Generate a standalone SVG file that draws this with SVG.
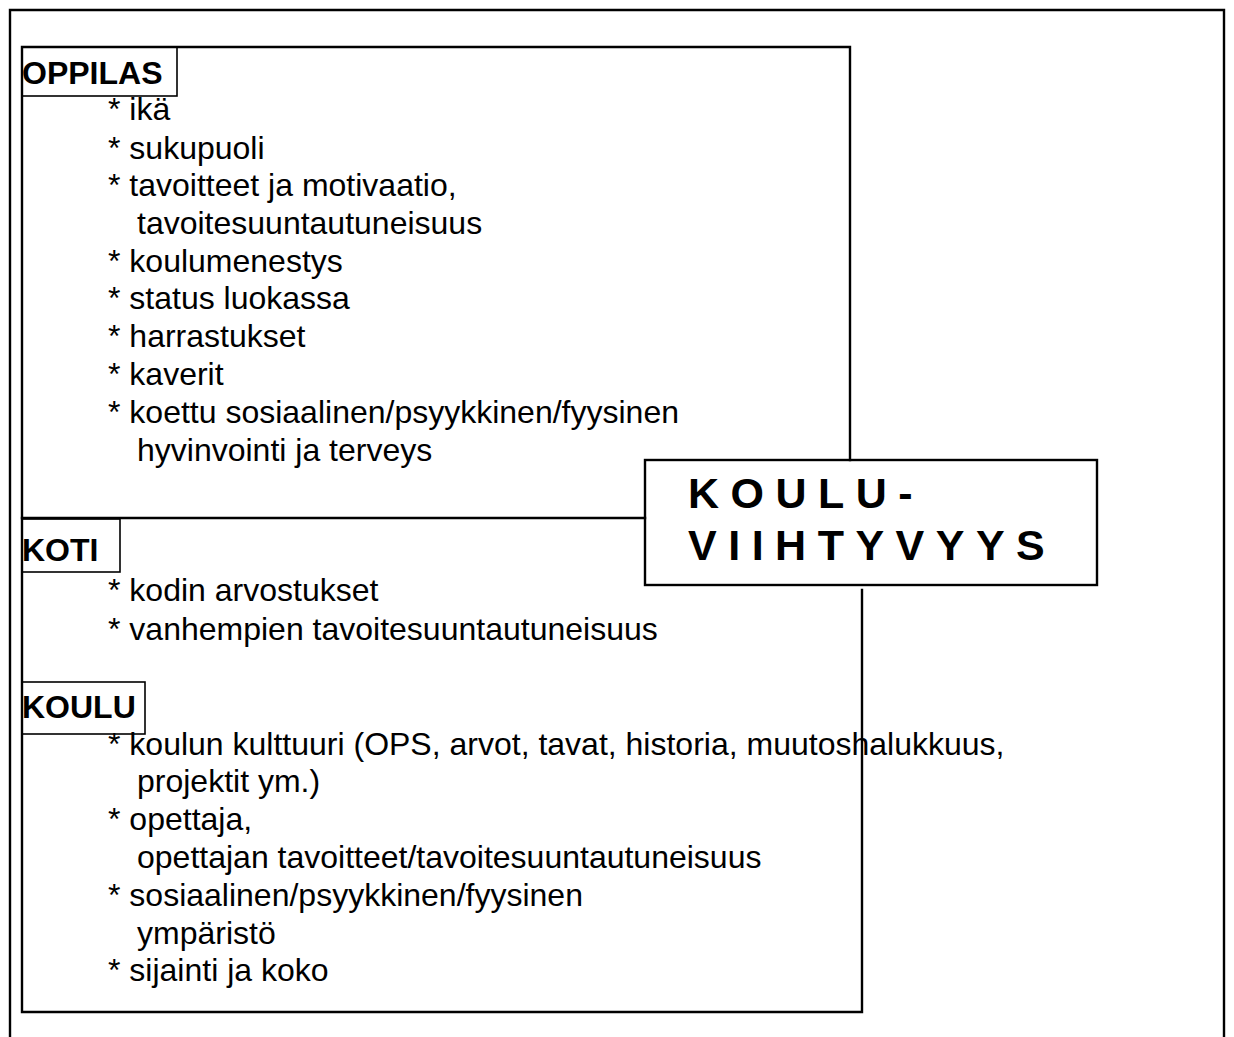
<svg xmlns="http://www.w3.org/2000/svg" width="1234" height="1037" viewBox="0 0 1234 1037">
<style>
.ln{fill:none;stroke:#000;stroke-width:2.4;stroke-linecap:square}
.lb{fill:none;stroke:#000;stroke-width:1.6}
.t{font-family:"Liberation Sans",Arial,sans-serif;font-size:32px;fill:#000}
.h{font-family:"Liberation Sans",Arial,sans-serif;font-size:32px;font-weight:bold;fill:#000}
.big{font-family:"Liberation Sans",Arial,sans-serif;font-size:43px;font-weight:bold;letter-spacing:11.5px;fill:#000}
</style>
<rect width="1234" height="1037" fill="#fff"/>
<g id="frame">
<path class="ln" d="M10,1037 V10 H1224 V1037" stroke-width="2.8"/>
</g>
<g id="connectors">
<path class="ln" d="M850,460 V47 H22 V1012 H862 V590"/>
<path class="ln" d="M22,518 H645"/>
</g>
<g id="node-oppilas">
<rect class="lb" x="22" y="47" width="155" height="49"/>
<text class="h" x="22" y="84">OPPILAS</text>
<text class="t" x="108" y="120">* ikä</text>
<text class="t" x="108" y="159">* sukupuoli</text>
<text class="t" x="108" y="196">* tavoitteet ja motivaatio,</text>
<text class="t" x="137" y="234">tavoitesuuntautuneisuus</text>
<text class="t" x="108" y="272">* koulumenestys</text>
<text class="t" x="108" y="309">* status luokassa</text>
<text class="t" x="108" y="347">* harrastukset</text>
<text class="t" x="108" y="385">* kaverit</text>
<text class="t" x="108" y="423">* koettu sosiaalinen/psyykkinen/fyysinen</text>
<text class="t" x="137" y="461">hyvinvointi ja terveys</text>
</g>
<g id="node-koti">
<rect class="lb" x="22" y="519" width="98" height="53"/>
<text class="h" x="22" y="561">KOTI</text>
<text class="t" x="108" y="601">* kodin arvostukset</text>
<text class="t" x="108" y="640">* vanhempien tavoitesuuntautuneisuus</text>
</g>
<g id="node-koulu">
<rect class="lb" x="22" y="682" width="123" height="52"/>
<text class="h" x="22" y="718">KOULU</text>
<text class="t" x="108" y="755">* koulun kulttuuri (OPS, arvot, tavat, historia, muutoshalukkuus,</text>
<text class="t" x="137" y="792">projektit ym.)</text>
<text class="t" x="108" y="830">* opettaja,</text>
<text class="t" x="137" y="868">opettajan tavoitteet/tavoitesuuntautuneisuus</text>
<text class="t" x="108" y="906">* sosiaalinen/psyykkinen/fyysinen</text>
<text class="t" x="137" y="944">ympäristö</text>
<text class="t" x="108" y="981">* sijainti ja koko</text>
</g>
<g id="node-viihtyvyys">
<rect class="ln" x="645" y="460" width="452" height="125"/>
<text class="big" x="688" y="508">KOULU-</text>
<text class="big" x="688" y="560">VIIHTYVYYS</text>
</g>
</svg>
